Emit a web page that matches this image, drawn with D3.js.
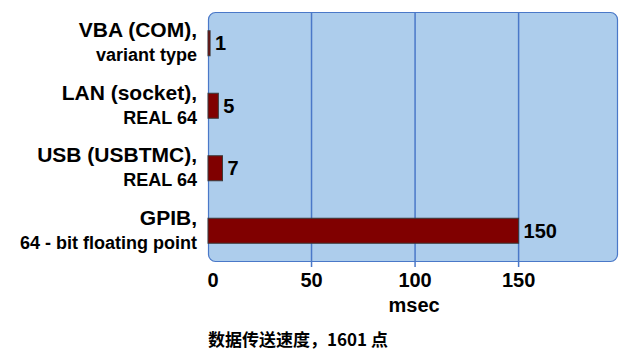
<!DOCTYPE html>
<html>
<head>
<meta charset="utf-8">
<script src="https://cdn.jsdelivr.net/npm/d3@7"></script>
<style>
  body { margin: 0; background: #fff; }
  text { font-family: "Liberation Sans", Arial, sans-serif; font-weight: bold; fill: #000; }
</style>
</head>
<body>
<script>
// data
const categories = ["VBA (COM),", "LAN (socket),", "USB (USBTMC),", "GPIB,"];
const subLabels = ["variant type", "REAL 64", "REAL 64", "64 - bit floating point"];
const values = [1, 5, 7, 150];
const xTicks = [0, 50, 100, 150];
const xTitle = "msec";
const caption = "数据传送速度，1601 点";

let margin = {top: 12, right: 2, bottom: 88, left: 208},
    width = 620 - margin.left - margin.right,
    height = 350 - margin.top - margin.bottom;

const svg = d3.select("body")
    .append("svg")
    .attr("width", 620)
    .attr("height", 350)
    .append("g")
    .attr("transform", `translate(${margin.left},${margin.top})`);

const x = d3.scaleLinear()
    .domain([0, 198])
    .range([0, width]);

const y = d3.scaleBand()
    .domain(categories)
    .range([0, height])
    .paddingInner(0.6)
    .paddingOuter(0.3);

// plot background (rounded)
svg.append("rect")
    .attr("x", 0.5)
    .attr("y", 0.5)
    .attr("width", width - 1)
    .attr("height", height - 1)
    .attr("rx", 7)
    .attr("fill", "#adcdec")
    .attr("stroke", "#4a78c8")
    .attr("stroke-width", 1.2);

// grid lines + ticks
svg.selectAll(".grid")
    .data(xTicks.filter(d => d > 0))
    .join("line")
    .attr("x1", d => x(d))
    .attr("x2", d => x(d))
    .attr("y1", 0)
    .attr("y2", height + 5)
    .attr("stroke", "#4a78c8")
    .attr("stroke-width", 1.5);

// x tick labels
svg.selectAll(".tick-label")
    .data(xTicks)
    .join("text")
    .attr("x", d => x(d) + (d === 0 ? 5 : 0))
    .attr("y", height + 25)
    .attr("text-anchor", "middle")
    .style("font-size", "20px")
    .text(d => d);

svg.append("text")
    .attr("x", x(100) - 1)
    .attr("y", height + 50)
    .attr("text-anchor", "middle")
    .style("font-size", "20px")
    .text(xTitle);

svg.append("text")
    .attr("x", 0)
    .attr("y", height + 84)
    .style("font-size", "17px")
    .style("font-family", "'Noto Sans CJK SC', sans-serif")
    .text(caption);

// bars
svg.selectAll(".bar")
    .data(values)
    .join("rect")
    .attr("x", x(0))
    .attr("y", (d, i) => y(categories[i]))
    .attr("width", d => x(d) - x(0))
    .attr("height", y.bandwidth())
    .attr("fill", "#800000")
    .attr("stroke", "#3a3a3a")
    .attr("stroke-width", 1);

// value labels
svg.selectAll(".val")
    .data(values)
    .join("text")
    .attr("x", d => x(d) + 5)
    .attr("y", (d, i) => y(categories[i]) + y.bandwidth() / 2)
    .attr("dy", "0.36em")
    .style("font-size", "20px")
    .text(d => d);

// category labels
const labels = svg.selectAll(".cat")
    .data(categories)
    .join("g")
    .attr("transform", d => `translate(-11, ${y(d) + y.bandwidth() / 2})`);

labels.append("text")
    .attr("text-anchor", "end")
    .attr("y", -6)
    .style("font-size", "21px")
    .text(d => d);

labels.append("text")
    .attr("text-anchor", "end")
    .attr("y", 18)
    .style("font-size", "18px")
    .text((d, i) => subLabels[i]);
</script>
</body>
</html>
